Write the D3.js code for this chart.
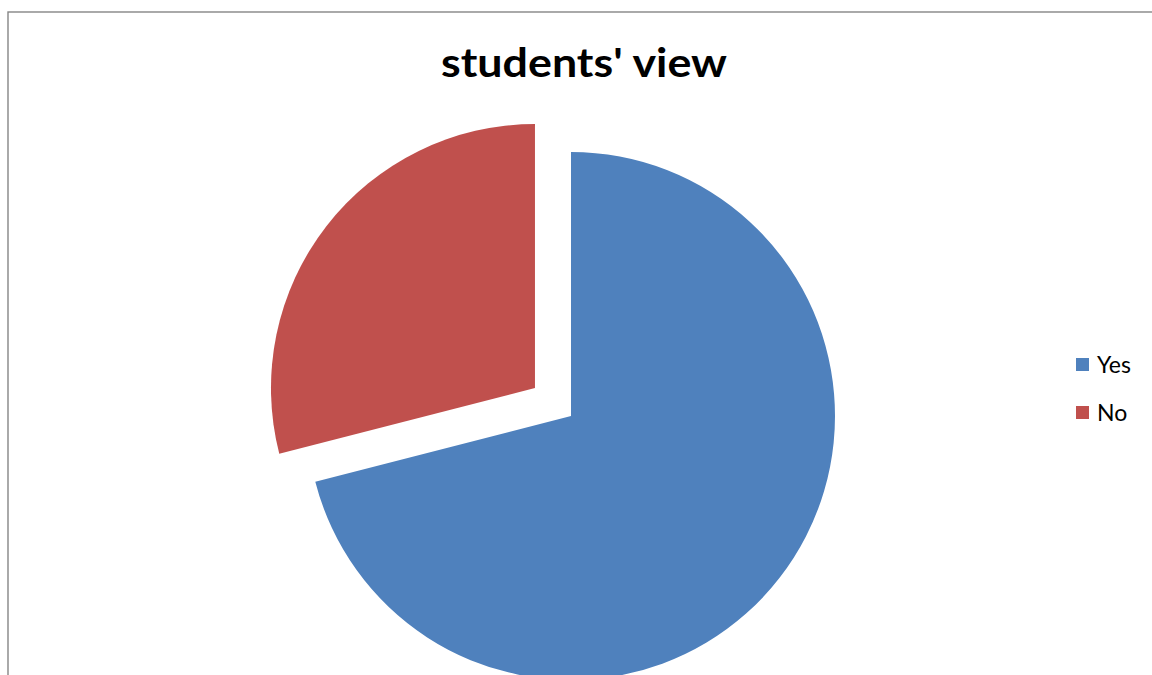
<!DOCTYPE html>
<html>
<head>
<meta charset="utf-8">
<script src="https://cdn.jsdelivr.net/npm/d3@7"></script>
<style>
  html, body { margin: 0; padding: 0; background: #fff; }
  svg { display: block; }
</style>
</head>
<body>
<svg id="chart" width="1152" height="675"></svg>
<script>
// Survey answers
const categories = ["Yes", "No"];
const values = [71, 29];
const colors = ["#4F81BD", "#C0504D"];
const title = "students' view";

const W = 1152, H = 675;
const svg = d3.select("#chart");

// Chart frame (runs off the right and bottom edges)
svg.append("rect")
  .attr("x", 8).attr("y", 12)
  .attr("width", W + 20).attr("height", H + 20)
  .attr("fill", "none")
  .attr("stroke", "#868686")
  .attr("stroke-width", 1.4);

// Title
svg.append("text")
  .attr("x", 584).attr("y", 77)
  .attr("text-anchor", "middle")
  .attr("font-family", "Lato, 'Open Sans', sans-serif")
  .attr("font-weight", "bold")
  .attr("font-size", 40)
  .attr("fill", "#000")
  .attr("textLength", 286)
  .attr("lengthAdjust", "spacingAndGlyphs")
  .text(title);

// Pie
const cx = 571, cy = 416, r = 264, explode = 45.6;
const pie = d3.pie().sort(null).value(d => d)(values);
const arc = d3.arc().innerRadius(0).outerRadius(r);

const g = svg.append("g").attr("transform", `translate(${cx},${cy})`);
g.selectAll("path")
  .data(pie)
  .join("path")
  .attr("d", arc)
  .attr("fill", (d, i) => colors[i])
  .attr("transform", (d, i) => {
    if (i !== 1) return null;
    const a = (d.startAngle + d.endAngle) / 2;
    return `translate(${Math.sin(a) * explode},${-Math.cos(a) * explode})`;
  });

// Legend
const legend = svg.append("g");
const items = legend.selectAll("g")
  .data(categories)
  .join("g")
  .attr("transform", (d, i) => `translate(1076,${358 + i * 48})`);
items.append("rect")
  .attr("width", 13).attr("height", 13)
  .attr("fill", (d, i) => colors[i]);
items.append("text")
  .attr("x", 21).attr("y", 15)
  .attr("font-family", "Lato, 'Open Sans', sans-serif")
  .attr("font-size", 23)
  .attr("fill", "#000")
  .text(d => d);
</script>
</body>
</html>
